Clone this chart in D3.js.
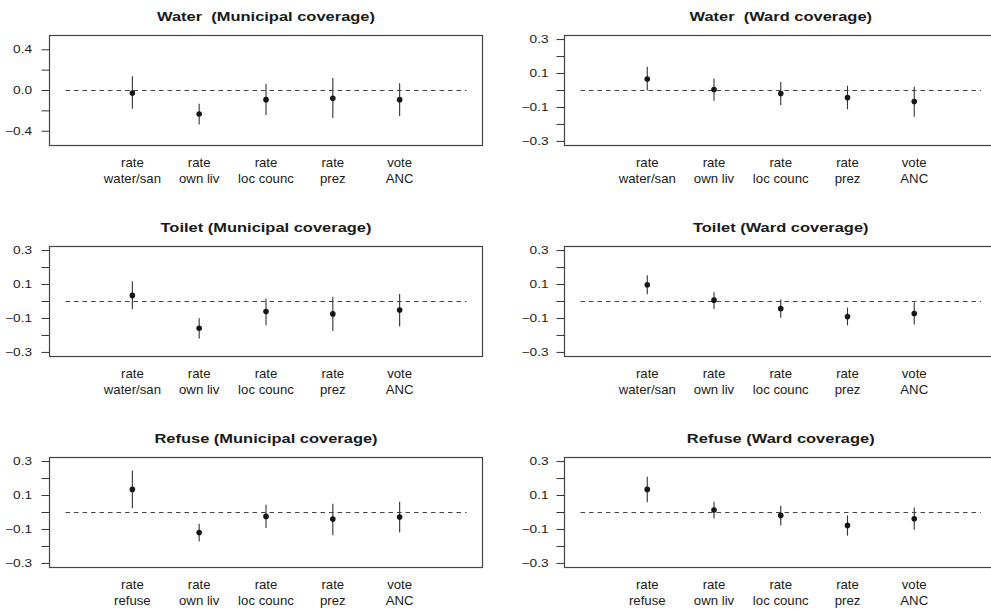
<!doctype html>
<html>
<head>
<meta charset="utf-8">
<script src="https://cdn.jsdelivr.net/npm/d3@7"></script>
<style>
  body { margin: 0; background: #fff; }
  svg { display: block; font-family: "Liberation Sans", Arial, Helvetica, sans-serif; }
</style>
</head>
<body>
<svg id="chart" width="991" height="609"></svg>
<script>
// category labels (two lines each)
var waterToiletLabels = [["rate", "water/san"], ["rate", "own liv"], ["rate", "loc counc"], ["rate", "prez"], ["vote", "ANC"]];
var refuseLabels = [["rate", "refuse"], ["rate", "own liv"], ["rate", "loc counc"], ["rate", "prez"], ["vote", "ANC"]];

// point estimates and interval ends
var waterMunEst = [-0.024, -0.23, -0.09, -0.077, -0.09];
var waterMunLo  = [-0.18, -0.335, -0.24, -0.27, -0.25];
var waterMunHi  = [0.14, -0.13, 0.066, 0.122, 0.072];

var waterWardEst = [0.068, 0.006, -0.018, -0.042, -0.065];
var waterWardLo  = [0.0, -0.06, -0.085, -0.11, -0.155];
var waterWardHi  = [0.14, 0.071, 0.05, 0.028, 0.022];

var toiletMunEst = [0.036, -0.158, -0.059, -0.073, -0.05];
var toiletMunLo  = [-0.046, -0.218, -0.14, -0.174, -0.147];
var toiletMunHi  = [0.12, -0.099, 0.018, 0.028, 0.044];

var toiletWardEst = [0.099, 0.008, -0.042, -0.089, -0.071];
var toiletWardLo  = [0.042, -0.044, -0.095, -0.14, -0.135];
var toiletWardHi  = [0.154, 0.055, 0.012, -0.036, -0.004];

var refuseMunEst = [0.136, -0.118, -0.023, -0.039, -0.027];
var refuseMunLo  = [0.025, -0.171, -0.092, -0.134, -0.118];
var refuseMunHi  = [0.248, -0.066, 0.045, 0.052, 0.064];

var refuseWardEst = [0.136, 0.015, -0.017, -0.076, -0.037];
var refuseWardLo  = [0.06, -0.035, -0.076, -0.136, -0.102];
var refuseWardHi  = [0.211, 0.064, 0.04, -0.017, 0.029];

// y axis ticks
var wideTicks = [-0.4, -0.2, 0, 0.2, 0.4];
var wideTickLabels = [-0.4, 0, 0.4];
var narrowTicks = [-0.3, -0.2, -0.1, 0, 0.1, 0.2, 0.3];
var narrowTickLabels = [-0.3, -0.1, 0.1, 0.3];

var panels = [
  { title: "Water  (Municipal coverage)", row: 0, col: 0, labels: waterToiletLabels, est: waterMunEst, lo: waterMunLo, hi: waterMunHi, ylim: [-0.54, 0.54], ticks: wideTicks, tickLabels: wideTickLabels },
  { title: "Water  (Ward coverage)", row: 0, col: 1, labels: waterToiletLabels, est: waterWardEst, lo: waterWardLo, hi: waterWardHi, ylim: [-0.324, 0.324], ticks: narrowTicks, tickLabels: narrowTickLabels },
  { title: "Toilet (Municipal coverage)", row: 1, col: 0, labels: waterToiletLabels, est: toiletMunEst, lo: toiletMunLo, hi: toiletMunHi, ylim: [-0.324, 0.324], ticks: narrowTicks, tickLabels: narrowTickLabels },
  { title: "Toilet (Ward coverage)", row: 1, col: 1, labels: waterToiletLabels, est: toiletWardEst, lo: toiletWardLo, hi: toiletWardHi, ylim: [-0.324, 0.324], ticks: narrowTicks, tickLabels: narrowTickLabels },
  { title: "Refuse (Municipal coverage)", row: 2, col: 0, labels: refuseLabels, est: refuseMunEst, lo: refuseMunLo, hi: refuseMunHi, ylim: [-0.324, 0.324], ticks: narrowTicks, tickLabels: narrowTickLabels },
  { title: "Refuse (Ward coverage)", row: 2, col: 1, labels: refuseLabels, est: refuseWardEst, lo: refuseWardLo, hi: refuseWardHi, ylim: [-0.324, 0.324], ticks: narrowTicks, tickLabels: narrowTickLabels }
];

// layout of the 3x2 grid
var cols = [
  { x0: 49.5, x1: 482.5, tickLen: 8, labelGap: 17.5 },
  { x0: 564.5, x1: 997, tickLen: 8, labelGap: 16 }
];
var rowTops = [35.5, 246.5, 457.5];
var plotH = 110;

var fmt = d3.format(".1f");
var svg = d3.select("#chart");

// text in the picture is a bit wider than the font; stretch it horizontally
function stretchedText(g, x, y, str, size, sx, anchor, weight, dy) {
  var t = g.append("g")
    .attr("transform", "translate(" + x + "," + y + ") scale(" + sx + ",1)")
    .append("text")
    .attr("text-anchor", anchor)
    .attr("font-size", size)
    .attr("fill", "#1a1a1a")
    .style("white-space", "pre")
    .text(str);
  if (weight) t.attr("font-weight", weight);
  if (dy) t.attr("dy", dy);
  return t;
}

panels.forEach(function (p) {
  var c = cols[p.col];
  var top = rowTops[p.row];
  var bottom = top + plotH;

  var x = d3.scaleLinear().domain([-0.24, 6.24]).range([c.x0, c.x1]);
  var y = d3.scaleLinear().domain(p.ylim).range([bottom, top]);

  var g = svg.append("g");

  // title
  stretchedText(g, (c.x0 + c.x1) / 2, top - 14.5, p.title, 13.5, 1.22, "middle", "bold");

  // zero reference line
  g.append("line")
    .attr("x1", x(0)).attr("x2", x(6))
    .attr("y1", y(0)).attr("y2", y(0))
    .attr("stroke", "#444").attr("stroke-width", 1)
    .attr("stroke-dasharray", "4.5,4");

  // intervals
  g.selectAll(".ci").data(p.est).enter().append("line")
    .attr("x1", function (d, i) { return x(i + 1); })
    .attr("x2", function (d, i) { return x(i + 1); })
    .attr("y1", function (d, i) { return y(p.lo[i]); })
    .attr("y2", function (d, i) { return y(p.hi[i]); })
    .attr("stroke", "#333").attr("stroke-width", 1.1);

  // points
  g.selectAll(".pt").data(p.est).enter().append("circle")
    .attr("cx", function (d, i) { return x(i + 1); })
    .attr("cy", function (d) { return y(d); })
    .attr("r", 2.8)
    .attr("fill", "#151515");

  // box
  g.append("rect")
    .attr("x", c.x0).attr("y", top)
    .attr("width", c.x1 - c.x0).attr("height", plotH)
    .attr("fill", "none").attr("stroke", "#444").attr("stroke-width", 1.2);

  // y axis ticks
  p.ticks.forEach(function (t) {
    g.append("line")
      .attr("x1", c.x0 - c.tickLen).attr("x2", c.x0)
      .attr("y1", y(t)).attr("y2", y(t))
      .attr("stroke", "#333").attr("stroke-width", 1);
  });
  p.tickLabels.forEach(function (t) {
    stretchedText(g, c.x0 - c.labelGap, y(t), fmt(t), 10.5, 1.3, "end", null, "0.35em");
  });

  // category labels
  p.labels.forEach(function (lab, i) {
    stretchedText(g, x(i + 1), bottom + 21, lab[0], 12, 1.1, "middle");
    stretchedText(g, x(i + 1), bottom + 37, lab[1], 12, 1.1, "middle");
  });
});
</script>
</body>
</html>
